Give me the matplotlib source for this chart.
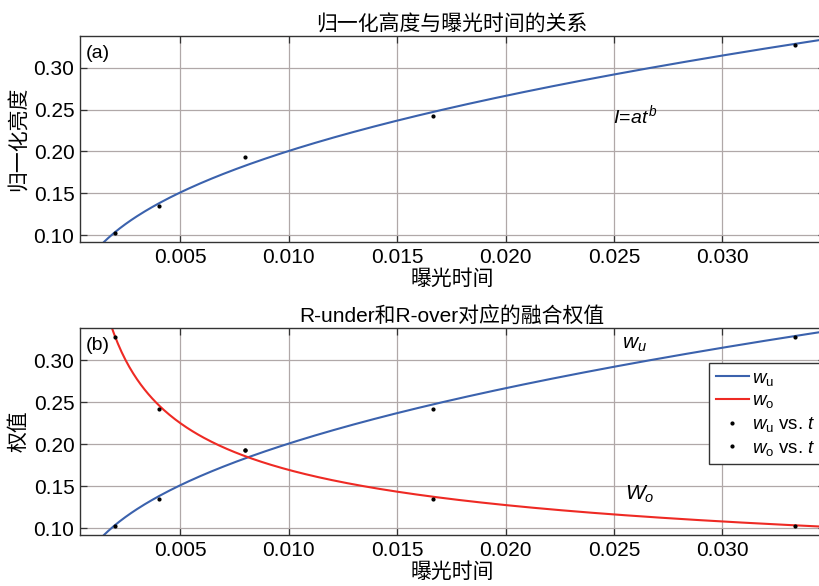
import numpy as np
import matplotlib
matplotlib.use("Agg")
import matplotlib.pyplot as plt
from matplotlib.lines import Line2D

plt.rcParams.update({
    "font.family": ["Liberation Sans", "Noto Sans CJK SC"],
    "font.size": 15,
    "mathtext.fontset": "custom",
    "mathtext.rm": "Liberation Sans",
    "mathtext.it": "Liberation Sans:italic",
    "mathtext.bf": "Liberation Sans:bold",
})

# exposure times (s) and measured values
t = [0.002, 0.004, 0.008, 1 / 60, 1 / 30]
intensity = [0.103, 0.135, 0.193, 0.242, 0.327]
w_u = [0.103, 0.135, 0.193, 0.242, 0.327]
w_o = [0.327, 0.242, 0.193, 0.135, 0.103]

x_ticks = [0.005, 0.010, 0.015, 0.020, 0.025, 0.030]
y_ticks = [0.10, 0.15, 0.20, 0.25, 0.30]

BLUE = "#3b62ad"
RED = "#ee2a24"
GRID = "#b0a8a8"
CJK = ["Noto Sans CJK SC", "Liberation Sans"]


def power_fit(x, y):
    # I = a * t^b, fitted in log-log space
    b, loga = np.polyfit(np.log(x), np.log(y), 1)
    tt = np.linspace(0.0008, 0.036, 400)
    return tt, np.exp(loga) * tt ** b


def style(ax):
    ax.set_xlim(0.00038, 0.03471)
    ax.set_ylim(0.0917, 0.338)
    ax.set_xticks(x_ticks)
    ax.set_xticklabels([f"{v:.3f}" for v in x_ticks])
    ax.set_yticks(y_ticks)
    ax.set_yticklabels([f"{v:.2f}" for v in y_ticks])
    ax.grid(True, color=GRID, linewidth=0.9)
    ax.tick_params(direction="in", top=True, right=True, length=5,
                   width=0.9, color="#333333", labelsize=15, pad=4)
    for s in ax.spines.values():
        s.set_color("#333333")
        s.set_linewidth(1.0)
    ax.set_xlabel("曝光时间", family=CJK, fontsize=15, labelpad=1)


fig = plt.figure(figsize=(8.2, 5.86), dpi=100)
ax1 = fig.add_axes([0.0976, 0.587, 0.908, 0.3515])
ax2 = fig.add_axes([0.0976, 0.087, 0.908, 0.353])

# (a)
tt, ff = power_fit(t, intensity)
ax1.plot(tt, ff, color=BLUE, linewidth=1.5)
ax1.plot(t, intensity, "k.", markersize=4)
style(ax1)
ax1.set_title("归一化高度与曝光时间的关系", family=CJK, fontsize=15, pad=4)
ax1.set_ylabel("归一化亮度", family=CJK, fontsize=15, labelpad=3)
ax1.text(0.008, 0.955, "(a)", transform=ax1.transAxes, fontsize=14,
         va="top", ha="left")
ax1.text(0.745, 0.615, r"$I\!=\!at^{b}$", transform=ax1.transAxes,
         fontsize=14, ha="center", va="center")

# (b)
tu, fu = power_fit(t, w_u)
to, fo = power_fit(t, w_o)
ax2.plot(tu, fu, color=BLUE, linewidth=1.5)
ax2.plot(to, fo, color=RED, linewidth=1.5)
ax2.plot(t, w_u, "k.", markersize=4)
ax2.plot(t, w_o, "k.", markersize=4)
style(ax2)
ax2.set_title("R-under和R-over对应的融合权值",
              family=["Liberation Sans", "Noto Sans CJK SC"], fontsize=15, pad=4)
ax2.set_ylabel("权值", family=CJK, fontsize=15, labelpad=3)
ax2.text(0.008, 0.955, "(b)", transform=ax2.transAxes, fontsize=14,
         va="top", ha="left")
ax2.text(0.745, 0.92, r"$w_u$", transform=ax2.transAxes,
         fontsize=15, ha="center", va="center")
ax2.text(0.752, 0.195, r"$W_o$", transform=ax2.transAxes,
         fontsize=15, ha="center", va="center")

handles = [
    Line2D([], [], color=BLUE, linewidth=1.5),
    Line2D([], [], color=RED, linewidth=1.5),
    Line2D([], [], color="k", marker=".", linestyle="none", markersize=4),
    Line2D([], [], color="k", marker=".", linestyle="none", markersize=4),
]
labels = [r"$w_\mathrm{u}$", r"$w_\mathrm{o}$",
          r"$w_\mathrm{u}$ vs. $t$", r"$w_\mathrm{o}$ vs. $t$"]
leg = ax2.legend(handles, labels, loc="upper left",
                 bbox_to_anchor=(0.845, 0.832), fontsize=13.5,
                 frameon=True, fancybox=False, framealpha=1,
                 edgecolor="#333333", handlelength=1.75, handletextpad=0.2,
                 labelspacing=0.25, borderpad=0.35, borderaxespad=0)
leg.get_frame().set_linewidth(1.0)

fig.savefig("out.png", dpi=100)
